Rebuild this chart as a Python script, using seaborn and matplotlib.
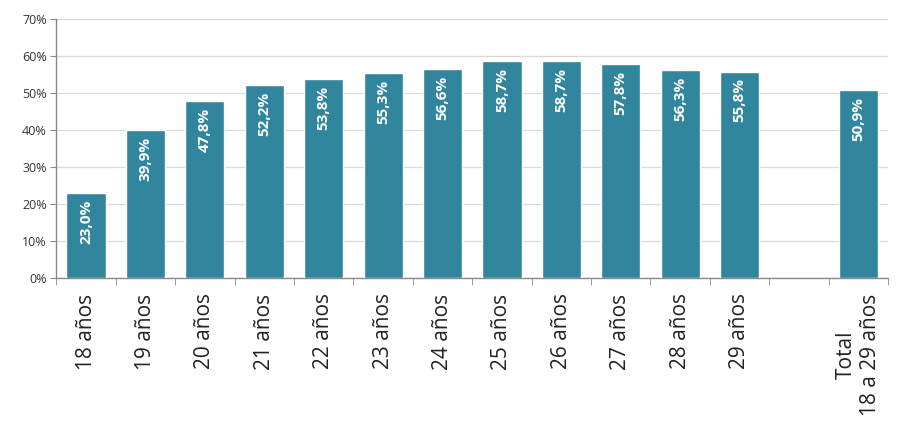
import numpy as np
import pandas as pd
import matplotlib
matplotlib.use('Agg')
import matplotlib.pyplot as plt
import seaborn as sns
from matplotlib.ticker import FixedLocator, PercentFormatter

# data
categories = ['18 años', '19 años', '20 años', '21 años', '22 años', '23 años',
              '24 años', '25 años', '26 años', '27 años', '28 años', '29 años',
              ' ', 'Total\n18 a 29 años']
values = [23.0, 39.9, 47.8, 52.2, 53.8, 55.3, 56.6, 58.7, 58.7, 57.8, 56.3, 55.8,
          np.nan, 50.9]

df = pd.DataFrame({'grupo': categories, 'pct': values})

sns.set_style('white')
plt.rcParams['font.family'] = ['Open Sans', 'DejaVu Sans']

fig = plt.figure(figsize=(9.09, 4.30), dpi=100)
ax = fig.add_axes([0.062, 0.353, 0.915, 0.603])

bar_color = '#31859C'
sns.barplot(data=df, x='grupo', y='pct', order=categories, color=bar_color,
            width=0.66, saturation=1, ax=ax, zorder=3)

# value labels inside the bars, rotated
for i, v in enumerate(values):
    if np.isnan(v):
        continue
    txt = f'{v:.1f}'.replace('.', ',') + '%'
    ax.annotate(txt, (i, v), xytext=(0, -5), textcoords='offset points',
                rotation=90, ha='center', va='top', color='white',
                fontsize=11, fontweight='bold', zorder=4)

ax.set_ylim(0, 70)
ax.set_xlim(-0.5, len(categories) - 0.5)
ax.set_yticks(range(0, 71, 10))
ax.yaxis.set_major_formatter(PercentFormatter(decimals=0))
ax.grid(axis='y', color='#d9d9d9', linewidth=0.9, zorder=0)

ax.set_xlabel('')
ax.set_ylabel('')

# category ticks between bars, labels centered
ax.xaxis.set_minor_locator(FixedLocator(np.arange(-0.5, len(categories), 1)))
ax.tick_params(axis='x', which='major', length=0, pad=11, labelsize=15,
               rotation=90, labelcolor='#222222')
ax.tick_params(axis='x', which='minor', length=5, color='#888888', bottom=True)
ax.tick_params(axis='y', length=4, color='#888888', left=True, labelsize=9,
               labelcolor='#333333', pad=3)
for lab in ax.get_xticklabels():
    lab.set_multialignment('center')

for side in ['top', 'right']:
    ax.spines[side].set_visible(False)
for side in ['left', 'bottom']:
    ax.spines[side].set_color('#888888')
    ax.spines[side].set_linewidth(1)

plt.savefig('out.png', dpi=100)
